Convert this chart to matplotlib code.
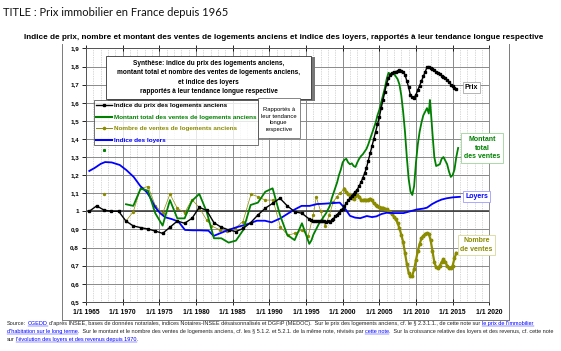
import matplotlib
matplotlib.use('Agg')
import matplotlib.pyplot as plt
from matplotlib.patches import Rectangle
from matplotlib.lines import Line2D

# ---- data ----
prix_years = [1965.45, 1966.45, 1967.45, 1968.45, 1969.45, 1970.45, 1971.45, 1972.45, 1973.45, 1974.45,
              1975.45, 1976.45, 1977.45, 1978.45, 1979.45, 1980.45, 1981.45, 1982.45, 1983.45, 1984.45,
              1985.45, 1986.45, 1987.45, 1988.45, 1989.45, 1990.45, 1991.45, 1992.45, 1993.45, 1994.45,
              1995.45, 1995.75, 1996.0, 1996.25, 1996.5, 1996.75, 1997.0, 1997.25, 1997.5, 1997.75,
              1998.0, 1998.25, 1998.5, 1998.75, 1999.0, 1999.25, 1999.5, 1999.75, 2000.0, 2000.25,
              2000.5, 2000.75, 2001.0, 2001.25, 2001.5, 2001.75, 2002.0, 2002.25, 2002.5, 2002.75,
              2003.0, 2003.25, 2003.5, 2003.75, 2004.0, 2004.25, 2004.5, 2004.75, 2005.0, 2005.25,
              2005.5, 2005.75, 2006.0, 2006.25, 2006.5, 2006.75, 2007.0, 2007.25, 2007.5, 2007.75,
              2008.0, 2008.25, 2008.5, 2008.75, 2009.0, 2009.25, 2009.5, 2009.75, 2010.0, 2010.25,
              2010.5, 2010.75, 2011.0, 2011.25, 2011.5, 2011.75, 2012.0, 2012.25, 2012.5, 2012.75,
              2013.0, 2013.25, 2013.5, 2013.75, 2014.0, 2014.25, 2014.5, 2014.75, 2015.0, 2015.25, 2015.5]
prix_values = [1.0, 1.03, 1.007, 1.0, 1.0, 0.946, 0.919, 0.91, 0.902, 0.891,
               0.878, 0.912, 0.946, 0.934, 0.961, 1.022, 1.005, 0.937, 0.912, 0.897,
               0.888, 0.906, 0.937, 0.98, 1.017, 1.044, 1.072, 1.03, 0.998, 0.989,
               0.957, 0.952, 0.948, 0.948, 0.947, 0.948, 0.946, 0.945, 0.944, 0.943,
               0.944, 0.943, 0.95, 0.96, 0.972, 0.982, 0.993, 1.005, 1.015, 1.03,
               1.045, 1.06, 1.072, 1.085, 1.097, 1.108, 1.12, 1.14, 1.16, 1.185,
               1.21, 1.24, 1.28, 1.32, 1.36, 1.40, 1.44, 1.48, 1.52, 1.57,
               1.615, 1.66, 1.705, 1.735, 1.755, 1.765, 1.77, 1.772, 1.775, 1.778,
               1.777, 1.77, 1.755, 1.72, 1.685, 1.64, 1.63, 1.628, 1.645, 1.67,
               1.695, 1.72, 1.745, 1.77, 1.795, 1.80, 1.79, 1.785, 1.78, 1.77,
               1.762, 1.758, 1.75, 1.742, 1.735, 1.725, 1.715, 1.70, 1.69, 1.68, 1.674]

montant_years = [1970.45, 1971.45, 1972.45, 1973.45, 1974.45, 1975.45, 1976.45, 1977.45, 1978.45, 1979.45,
                 1980.45, 1981.45, 1982.45, 1983.45, 1984.45, 1985.45, 1986.45, 1987.45, 1988.45, 1989.45,
                 1990.45, 1991.45, 1992.45, 1993.45, 1994.45, 1995.45, 1995.75, 1996.0, 1996.25, 1996.5,
                 1996.75, 1997.0, 1997.25, 1997.5, 1997.75, 1998.0, 1998.25, 1998.5, 1998.75, 1999.0,
                 1999.25, 1999.5, 1999.75, 2000.0, 2000.25, 2000.5, 2000.75, 2001.0, 2001.25, 2001.5,
                 2001.75, 2002.0, 2002.25, 2002.5, 2002.75, 2003.0, 2003.25, 2003.5, 2003.75, 2004.0,
                 2004.25, 2004.5, 2004.75, 2005.0, 2005.25, 2005.5, 2005.75, 2006.0, 2006.25, 2006.5,
                 2006.75, 2007.0, 2007.25, 2007.5, 2007.75, 2008.0, 2008.25, 2008.5, 2008.75, 2009.0,
                 2009.25, 2009.5, 2009.75, 2010.0, 2010.25, 2010.5, 2010.75, 2011.0, 2011.25, 2011.5,
                 2011.75, 2011.9, 2012.0, 2012.25, 2012.5, 2012.75, 2013.0, 2013.25, 2013.5, 2013.75,
                 2014.0, 2014.25, 2014.5, 2014.75, 2015.0, 2015.25, 2015.5, 2015.75]
montant_values = [1.039, 1.03, 1.125, 1.114, 0.989, 0.921, 1.062, 0.961, 0.961, 1.058,
                  1.096, 0.998, 0.851, 0.851, 0.827, 0.838, 0.897, 1.035, 1.048, 1.108,
                  1.127, 0.98, 0.869, 0.841, 0.934, 0.82, 0.84, 0.87, 0.89, 0.91,
                  0.93, 0.945, 0.96, 0.975, 0.99, 1.01, 1.03, 1.07, 1.10, 1.13,
                  1.16, 1.20, 1.23, 1.27, 1.285, 1.29, 1.27, 1.26, 1.265, 1.25,
                  1.245, 1.27, 1.29, 1.305, 1.315, 1.33, 1.345, 1.37, 1.40, 1.43,
                  1.46, 1.49, 1.53, 1.56, 1.60, 1.64, 1.68, 1.73, 1.765, 1.76,
                  1.755, 1.76, 1.745, 1.73, 1.70, 1.64, 1.55, 1.44, 1.30, 1.18,
                  1.11, 1.09, 1.14, 1.27, 1.37, 1.44, 1.49, 1.53, 1.55, 1.57,
                  1.54, 1.615, 1.57, 1.43, 1.30, 1.25, 1.255, 1.26, 1.29, 1.30,
                  1.28, 1.26, 1.22, 1.19, 1.20, 1.23, 1.30, 1.35]

nombre_years_annual = [1970.45, 1971.45, 1972.45, 1973.45, 1974.45, 1975.45, 1976.45, 1977.45, 1978.45, 1979.45,
                       1980.45, 1981.45, 1982.1, 1983.3, 1984.2, 1985.3, 1986.4, 1987.5, 1988.5, 1989.4,
                       1990.5, 1991.5, 1992.5, 1993.5, 1994.4, 1995.3, 1996.0, 1996.4, 1997.0, 1997.6,
                       1998.2, 1998.7, 1999.2, 1999.6, 2000.25]
nombre_values_annual = [0.946, 0.998, 1.127, 1.137, 1.032, 0.989, 1.095, 1.017, 0.992, 1.065,
                        1.02, 0.952, 0.919, 0.897, 0.893, 0.906, 0.943, 1.094, 1.081, 1.062,
                        1.062, 0.915, 0.869, 0.878, 0.897, 0.864, 0.98, 1.08, 1.0, 0.92,
                        0.98, 1.05, 1.08, 1.10, 1.125]

nombre_years_recent = [2000.25, 2000.5, 2000.75, 2001.0, 2001.25, 2001.5, 2001.75, 2002.0, 2002.25, 2002.5,
                       2002.75, 2003.0, 2003.25, 2003.5, 2003.75, 2004.0, 2004.25, 2004.5, 2004.75, 2005.0,
                       2005.25, 2005.5, 2005.75, 2006.0, 2006.25, 2006.5, 2006.75, 2007.0, 2007.25, 2007.5,
                       2007.75, 2008.0, 2008.25, 2008.5, 2008.75, 2009.0, 2009.25, 2009.5, 2009.75, 2010.0,
                       2010.25, 2010.5, 2010.75, 2011.0, 2011.25, 2011.5, 2011.75, 2012.0, 2012.25, 2012.5,
                       2012.75, 2013.0, 2013.25, 2013.5, 2013.75, 2014.0, 2014.25, 2014.5, 2014.75, 2015.0,
                       2015.25, 2015.5]
nombre_values_recent = [1.125, 1.105, 1.095, 1.09, 1.075, 1.07, 1.085, 1.09, 1.08, 1.065,
                        1.06, 1.065, 1.06, 1.065, 1.07, 1.06, 1.045, 1.035, 1.03, 1.025,
                        1.02, 1.02, 1.015, 1.01, 1.0, 0.995, 0.985, 0.97, 0.955, 0.935,
                        0.905, 0.87, 0.83, 0.77, 0.71, 0.66, 0.64, 0.645, 0.68, 0.73,
                        0.78, 0.82, 0.85, 0.865, 0.875, 0.88, 0.875, 0.84, 0.78, 0.72,
                        0.69, 0.685, 0.70, 0.72, 0.735, 0.72, 0.70, 0.685, 0.685, 0.70,
                        0.74, 0.77]

loyers_years = [1965.45, 1966.2, 1967.0, 1967.6, 1968.5, 1969.6, 1970.5, 1971.5, 1972.4, 1973.3,
                1973.7, 1974.4, 1975.1, 1975.8, 1976.7, 1977.6, 1978.5, 1979.6, 1980.5, 1981.7,
                1982.4, 1983.5, 1984.4, 1985.8, 1987.1, 1988.3, 1989.4, 1990.3, 1991.5, 1992.6,
                1993.5, 1994.4, 1995.5, 1996.5, 1997.5, 1998.5, 1999.6, 2000.3, 2001.0, 2001.7,
                2002.4, 2003.3, 2004.0, 2004.6, 2005.3, 2006.0, 2007.0, 2008.3, 2009.2, 2010.1,
                2011.0, 2011.5, 2012.2, 2012.8, 2013.5, 2014.2, 2015.0, 2016.0]
loyers_values = [1.223, 1.24, 1.262, 1.272, 1.27, 1.256, 1.228, 1.19, 1.14, 1.105,
                 1.08, 1.025, 0.99, 0.967, 0.957, 0.943, 0.897, 0.895, 0.895, 0.893,
                 0.864, 0.882, 0.897, 0.915, 0.93, 0.948, 0.948, 0.939, 0.961, 0.989,
                 1.011, 1.03, 1.03, 1.04, 1.042, 1.045, 1.048, 1.017, 0.975, 0.965,
                 0.962, 0.974, 0.968, 0.972, 0.985, 0.992, 0.99, 0.99, 1.0, 1.01,
                 1.015, 1.02, 1.04, 1.053, 1.065, 1.072, 1.077, 1.08]

# isolated points near 1967
stray_montant = (1967.45, 1.339)
stray_nombre = (1967.45, 1.094)

x_ticks = [1965, 1970, 1975, 1980, 1985, 1990, 1995, 2000, 2005, 2010, 2015, 2020]
x_tick_labels = ['1/1 ' + str(y) for y in x_ticks]
y_ticks = [0.5, 0.6, 0.7, 0.8, 0.9, 1.0, 1.1, 1.2, 1.3, 1.4, 1.5, 1.6, 1.7, 1.8, 1.9]
y_tick_labels = ['0,5', '0,6', '0,7', '0,8', '0,9', '1', '1,1', '1,2', '1,3', '1,4', '1,5', '1,6', '1,7', '1,8', '1,9']

BLACK = '#000000'
GREEN = '#008000'
OLIVE = '#8c8c00'
BLUE = '#0000ff'

W, H = 561, 351
fig = plt.figure(figsize=(W / 100, H / 100), dpi=100)
fig.patch.set_facecolor('white')
plt.rcParams['font.family'] = ['Liberation Sans', 'DejaVu Sans']


def fx(px):
    return px / W


def fy(py):
    return 1 - py / H


# plot area
ax = fig.add_axes([fx(86), fy(301.8), (489.3 - 86) / W, (301.8 - 48.4) / H])
ax.set_xlim(1965, 2020)
ax.set_ylim(0.5, 1.9)
ax.set_xticks(x_ticks)
ax.set_xticks(range(1965, 2021), minor=True)
ax.set_xticklabels(x_tick_labels, fontsize=4.9, fontweight='bold')
ax.set_yticks(y_ticks)
ax.set_yticklabels(y_tick_labels, fontsize=4.5, fontweight='bold')
ax.tick_params(axis='x', which='major', direction='inout', length=4, width=0.6, pad=3, top=True)
ax.tick_params(axis='x', which='minor', length=0)
ax.tick_params(axis='y', which='major', direction='out', length=3, width=0.6, pad=2)
ax.grid(which='major', color='#8a8a8a', lw=0.7)
ax.grid(which='minor', axis='x', color='#b4b4b4', lw=0.5, ls=(0, (1, 1.5)))
ax.set_axisbelow(True)
for side in ['left', 'bottom', 'top']:
    ax.spines[side].set_color('#555555')
    ax.spines[side].set_linewidth(0.7)
ax.spines['right'].set_color('#8a8a8a')
ax.spines['right'].set_linewidth(0.7)
ax.axhline(1.0, color='#333333', lw=1.1, zorder=1.5)

# series
ax.plot(nombre_years_annual, nombre_values_annual, color=OLIVE, lw=0.5,
        marker='o', ms=1.4, mec=OLIVE, zorder=3)
ax.plot(nombre_years_recent, nombre_values_recent, color=OLIVE, lw=1.6,
        marker='o', ms=1.8, zorder=3)
ax.plot(*stray_nombre, color=OLIVE, marker='o', ms=1.4, ls='none', zorder=3)
ax.plot(loyers_years, loyers_values, color=BLUE, lw=1.3, zorder=4)
ax.plot(montant_years, montant_values, color=GREEN, lw=1.3, zorder=5)
ax.plot(*stray_montant, color=GREEN, marker='s', ms=1.2, ls='none', zorder=5)
ax.plot(prix_years, prix_values, color=BLACK, lw=1.0, marker='s', ms=2.0, zorder=6)

# legend
leg_handles = [Line2D([], [], color=BLACK, lw=1.0, marker='s', ms=2.0),
               Line2D([], [], color=GREEN, lw=1.5),
               Line2D([], [], color=OLIVE, lw=0.7, marker='o', ms=1.6),
               Line2D([], [], color=BLUE, lw=1.5)]
leg_labels = ['Indice du prix des logements anciens',
              'Montant total des ventes de logements anciens',
              'Nombre de ventes de logements anciens',
              'Indice des loyers']
leg = fig.legend(leg_handles, leg_labels, loc='upper left', bbox_to_anchor=(fx(93.5), fy(100.5)),
                 frameon=True, fancybox=False, borderaxespad=0, handlelength=2.6,
                 handletextpad=0.2, labelspacing=0.95, borderpad=0.35,
                 labelcolor=[BLACK, GREEN, OLIVE, BLUE], prop={'weight': 'bold', 'size': 4.6})
leg.get_frame().set_edgecolor('#333333')
leg.get_frame().set_linewidth(0.6)

# synthesis box with shadow
fig.patches.append(Rectangle((fx(108), fy(101)), (313 - 106) / W, (101 - 57) / H,
                             transform=fig.transFigure, facecolor='#777777', edgecolor='none'))
fig.patches.append(Rectangle((fx(106), fy(99)), (311 - 106) / W, (99 - 56) / H,
                             transform=fig.transFigure, facecolor='white', edgecolor='#333333', lw=0.6))
fig.text(fx(208.5), fy(77.5),
         'Synthèse: indice du prix des logements anciens,\n'
         'montant total et nombre des ventes de logements anciens,\n'
         'et indice des loyers\n'
         'rapportés à leur tendance longue respective',
         ha='center', va='center', fontsize=4.7, fontweight='bold', linespacing=1.45)

# "Rapportés à ..." box
fig.patches.append(Rectangle((fx(258), fy(137.5)), (299.5 - 258) / W, (137.5 - 98.5) / H,
                             transform=fig.transFigure, facecolor='white', edgecolor='#555555', lw=0.5,
                             zorder=5))
fig.text(fx(278.7), fy(119.5), 'Rapportés à\nleur tendance\nlongue\nrespective',
         ha='center', va='center', fontsize=4.2, linespacing=1.35, zorder=6)

# series labels on the right
fig.text(fx(471.5), fy(87.5), 'Prix', ha='center', va='center', fontsize=5, fontweight='bold',
         color=BLACK, bbox=dict(boxstyle='square,pad=0.25', facecolor='white', edgecolor='#999999', lw=0.5))
fig.text(fx(482), fy(148), 'Montant\ntotal\ndes ventes', ha='center', va='center', fontsize=5,
         fontweight='bold', color=GREEN, linespacing=1.35,
         bbox=dict(boxstyle='square,pad=0.35', facecolor='white', edgecolor='#9bd49b', lw=0.6))
fig.text(fx(476.5), fy(196.7), 'Loyers', ha='center', va='center', fontsize=5, fontweight='bold',
         color=BLUE, bbox=dict(boxstyle='square,pad=0.25', facecolor='white', edgecolor='#9b9bff', lw=0.6))
fig.text(fx(476.5), fy(245), 'Nombre\nde ventes', ha='center', va='center', fontsize=5,
         fontweight='bold', color=OLIVE, linespacing=1.35,
         bbox=dict(boxstyle='square,pad=0.35', facecolor='white', edgecolor='#d8d89b', lw=0.6))

# outer frame of the chart image
frame_color = '#7a7a7a'
fig.add_artist(Line2D([fx(62), fx(62)], [fy(44), fy(320)], color=frame_color, lw=0.7))
fig.add_artist(Line2D([fx(509), fx(509)], [fy(44), fy(320)], color=frame_color, lw=0.7))
fig.add_artist(Line2D([fx(62), fx(509)], [fy(320), fy(320)], color=frame_color, lw=0.7))

# titles
fig.text(fx(3), fy(12), 'TITLE : Prix immobilier en France depuis 1965', family=['Lato', 'DejaVu Sans'],
         fontsize=8.0, ha='left', va='center', color='#111111')
fig.text(fx(284), fy(37.5),
         'Indice de prix, nombre et montant des ventes de logements anciens et indice des loyers, '
         'rapportés à leur tendance longue respective',
         ha='center', va='center', fontsize=5.85, fontweight='bold')

# source lines with links
renderer = fig.canvas.get_renderer()
SRC_SIZE = 3.95
source_lines = [
    (323.5, [('Source:', False), ('CGEDD', True),
             ("d'après INSEE, bases de données notariales, indices Notaires-INSEE désaisonnalisés et DGFiP (MEDOC).  "
              "Sur le prix des logements anciens, cf. le § 2.3.1.1., de cette note sur", False),
             ("le prix de l'immobilier", True)]),
    (331.5, [("d'habitation sur le long terme", True),
             ('.  Sur le montant et le nombre des ventes de logements anciens, cf. les § 5.1.2. et 5.2.1. '
              'de la même note, révisés par', False),
             ('cette note', True),
             ('.  Sur la croissance relative des loyers et des revenus, cf. cette note', False)]),
    (339.5, [('sur', False), ("l'évolution des loyers et des revenus depuis 1970", True), ('.', False)]),
]
for y_px, runs in source_lines:
    x_px = 7
    for i, (txt, link) in enumerate(runs):
        t = fig.text(fx(x_px), fy(y_px), txt, fontsize=SRC_SIZE, ha='left', va='center',
                     color=BLUE if link else '#222222')
        bb = t.get_window_extent(renderer)
        if link:
            fig.add_artist(Line2D([bb.x0 / W, bb.x1 / W], [fy(y_px + 2.8)] * 2, color=BLUE, lw=0.3))
        gap = 0 if (i + 1 < len(runs) and runs[i + 1][0].startswith(('.', ','))) else 1.7
        x_px = bb.x1 + gap

fig.savefig('out.png', dpi=100)
